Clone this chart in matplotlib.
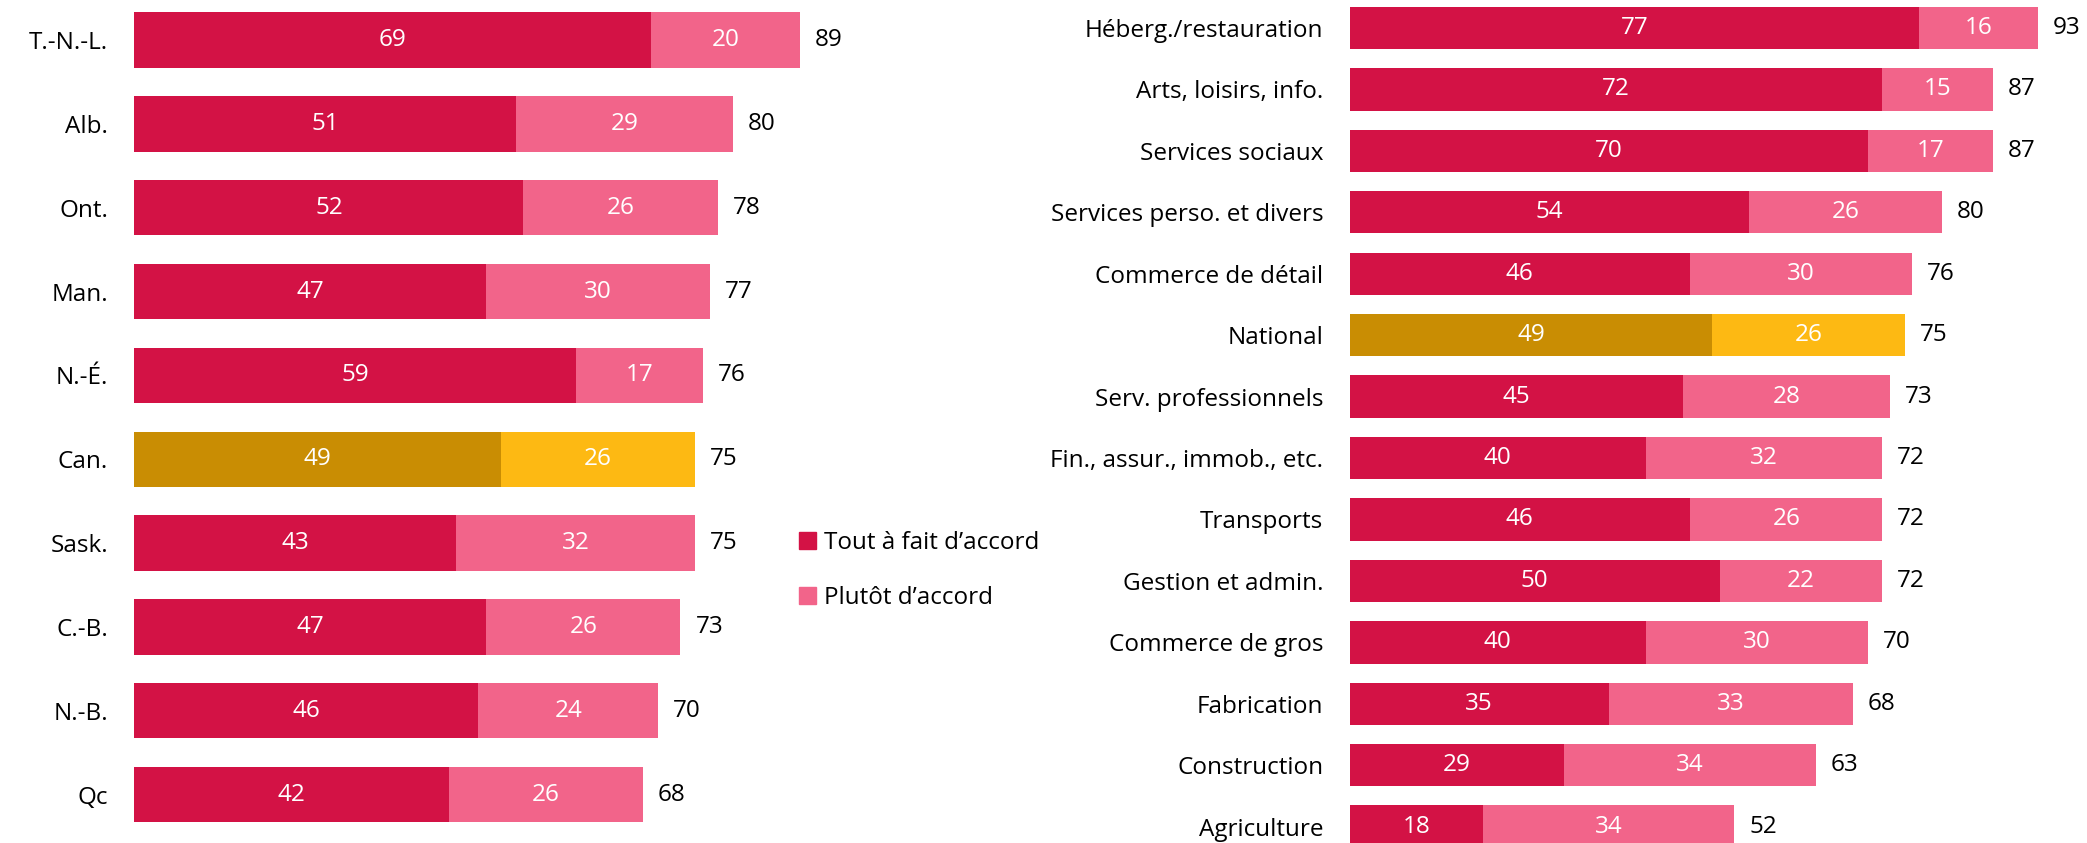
import numpy as np
import matplotlib
matplotlib.use("Agg")
import matplotlib.pyplot as plt
from matplotlib.patches import Patch

plt.rcParams['font.family'] = ['Open Sans', 'DejaVu Sans']

# provinces
prov = ['T.-N.-L.', 'Alb.', 'Ont.', 'Man.', 'N.-É.', 'Can.', 'Sask.', 'C.-B.', 'N.-B.', 'Qc']
prov_tout = [69, 51, 52, 47, 59, 49, 43, 47, 46, 42]
prov_plutot = [20, 29, 26, 30, 17, 26, 32, 26, 24, 26]
prov_total = [89, 80, 78, 77, 76, 75, 75, 73, 70, 68]

# secteurs
sect = ['Héberg./restauration', 'Arts, loisirs, info.', 'Services sociaux',
        'Services perso. et divers', 'Commerce de détail', 'National',
        'Serv. professionnels', 'Fin., assur., immob., etc.', 'Transports',
        'Gestion et admin.', 'Commerce de gros', 'Fabrication', 'Construction',
        'Agriculture']
sect_tout = [77, 72, 70, 54, 46, 49, 45, 40, 46, 50, 40, 35, 29, 18]
sect_plutot = [16, 15, 17, 26, 30, 26, 28, 32, 26, 22, 30, 33, 34, 34]
sect_total = [93, 87, 87, 80, 76, 75, 73, 72, 72, 72, 70, 68, 63, 52]

RED = '#D31245'
PINK = '#F2648A'
GOLD_D = '#C98D03'
GOLD_L = '#FDB913'

W, H = 2087, 843
fig = plt.figure(figsize=(W / 100, H / 100), dpi=100)


def add_axes_px(x0, x1, y0, y1):
    # pixel box (from top-left) -> figure fraction
    return fig.add_axes([x0 / W, 1 - y1 / H, (x1 - x0) / W, (y1 - y0) / H])


def draw(ax, labels, tout, plutot, total, highlight, height, fs):
    y = np.arange(len(labels))
    c1 = [GOLD_D if l == highlight else RED for l in labels]
    c2 = [GOLD_L if l == highlight else PINK for l in labels]
    ax.barh(y, tout, height=height, color=c1)
    ax.barh(y, plutot, left=tout, height=height, color=c2)
    for i in range(len(labels)):
        ax.text(tout[i] / 2, y[i], str(tout[i]), ha='center', va='center',
                color='white', fontsize=fs)
        ax.text(tout[i] + plutot[i] / 2, y[i], str(plutot[i]), ha='center',
                va='center', color='white', fontsize=fs)
        ax.text(total[i] + 2.0, y[i], str(total[i]), ha='left', va='center',
                color='black', fontsize=fs)
    ax.set_yticks(y)
    ax.set_yticklabels(labels, fontsize=fs)
    ax.tick_params(axis='y', length=0, pad=19)
    ax.set_xticks([])
    for s in ax.spines.values():
        s.set_visible(False)


FS = 17.5

# left panel: 7.48 px per unit, rows 40 -> 794.6 px
sp = (794.6 - 40) / 9
ax1 = add_axes_px(134.4, 134.4 + 100 * 7.48, 40 - 0.5 * sp, 794.6 + 0.5 * sp)
draw(ax1, prov, prov_tout, prov_plutot, prov_total, 'Can.', 0.66, FS)
ax1.set_xlim(0, 100)
ax1.set_ylim(9.5, -0.5)

# right panel: 7.40 px per unit, rows 28 -> 826.6 px
sp2 = (826.6 - 28) / 13
ax2 = add_axes_px(1349.6, 1349.6 + 100 * 7.40, 28 - 0.5 * sp2, 826.6 + 0.5 * sp2)
draw(ax2, sect, sect_tout, sect_plutot, sect_total, 'National', 0.69, FS)
ax2.set_xlim(0, 100)
ax2.set_ylim(13.5, -0.5)

handles = [Patch(color=RED, label='Tout à fait d’accord'),
           Patch(color=PINK, label='Plutôt d’accord')]
fig.legend(handles=handles, loc='upper left', bbox_to_anchor=(789 / W, 1 - 521 / H),
           frameon=False, fontsize=FS, handlelength=0.7, handleheight=0.7,
           handletextpad=0.35, labelspacing=1.3, borderaxespad=0)

fig.savefig('out.png', dpi=100)
